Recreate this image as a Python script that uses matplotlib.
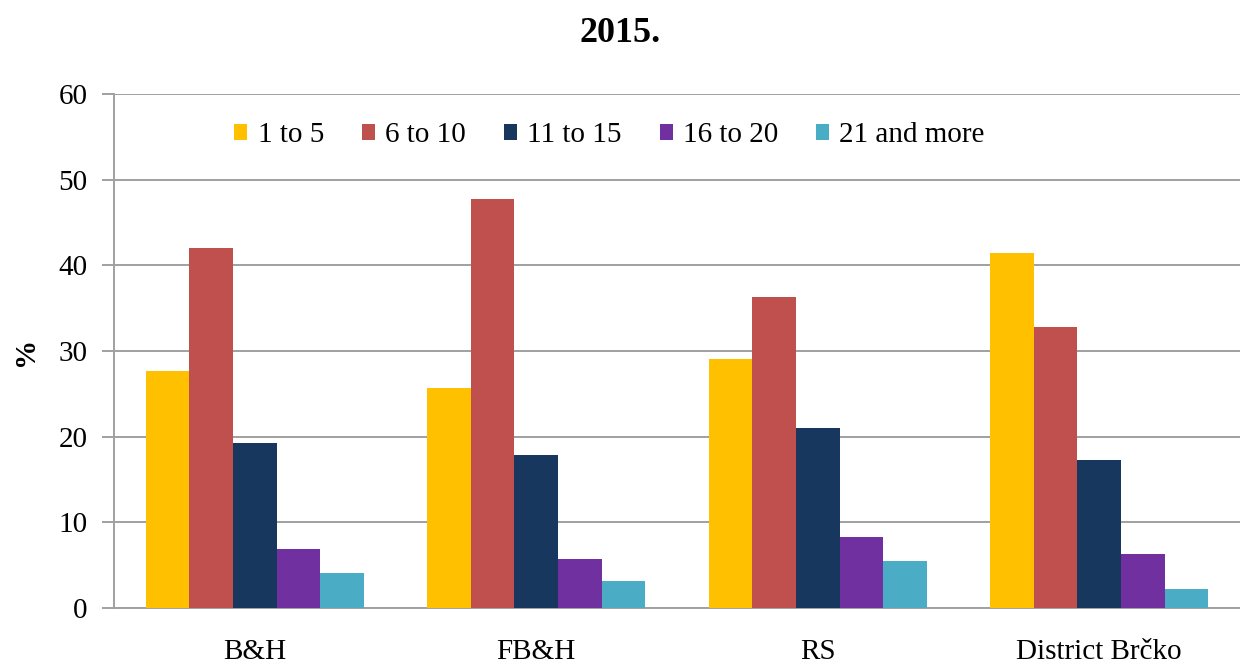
import numpy as np
import matplotlib
matplotlib.use('Agg')
import matplotlib.pyplot as plt

# data
regions = ['B&H', 'FB&H', 'RS', 'District Brčko']
series_names = ['1 to 5', '6 to 10', '11 to 15', '16 to 20', '21 and more']
v_1_5 = [27.7, 25.7, 29.1, 41.4]
v_6_10 = [42.0, 47.7, 36.3, 32.8]
v_11_15 = [19.3, 17.9, 21.0, 17.3]
v_16_20 = [6.9, 5.7, 8.3, 6.3]
v_21_more = [4.1, 3.1, 5.5, 2.2]
yticks = [0, 10, 20, 30, 40, 50, 60]

colors = ['#FFC000', '#C0504D', '#17375E', '#7030A0', '#4BACC6']

plt.rcParams['font.family'] = ['Liberation Serif', 'DejaVu Serif']

fig = plt.figure(figsize=(12.4, 6.67), dpi=100)
ax = fig.add_axes([0.092, 0.0885, 0.908, 0.7705])

x = np.arange(len(regions))
w = 0.155
all_vals = [v_1_5, v_6_10, v_11_15, v_16_20, v_21_more]
for i, vals in enumerate(all_vals):
    ax.bar(x + (i - 2) * w, vals, w, color=colors[i], label=series_names[i], zorder=3)

ax.set_xlim(-0.5, len(regions) - 0.5)
ax.set_ylim(0, 60)
ax.set_yticks(yticks)
ax.yaxis.grid(True, color='#a0a0a0', linewidth=1.4, zorder=0)
ax.set_axisbelow(True)
ax.set_xticks(x)
ax.set_xticklabels(regions, fontsize=21)
ax.tick_params(axis='x', length=0, pad=22)
ax.tick_params(axis='y', labelsize=21, length=9, color='#a0a0a0', width=1.4, pad=10)
for s in ['top', 'right']:
    ax.spines[s].set_visible(False)
for s in ['left', 'bottom']:
    ax.spines[s].set_color('#a0a0a0')
    ax.spines[s].set_linewidth(1.4)

fig.text(25 / 1240, 1 - 351 / 667, '%', fontsize=21, fontweight='bold',
         rotation=90, ha='center', va='center')
fig.suptitle('2015.', fontsize=26, fontweight='bold', y=0.975)

ax.legend(loc='center', bbox_to_anchor=(0.44, 0.92), ncol=5, frameon=False,
          fontsize=21, handlelength=0.45, handleheight=0.45, handletextpad=0.35,
          columnspacing=1.3)

fig.savefig('out.png', dpi=100)
